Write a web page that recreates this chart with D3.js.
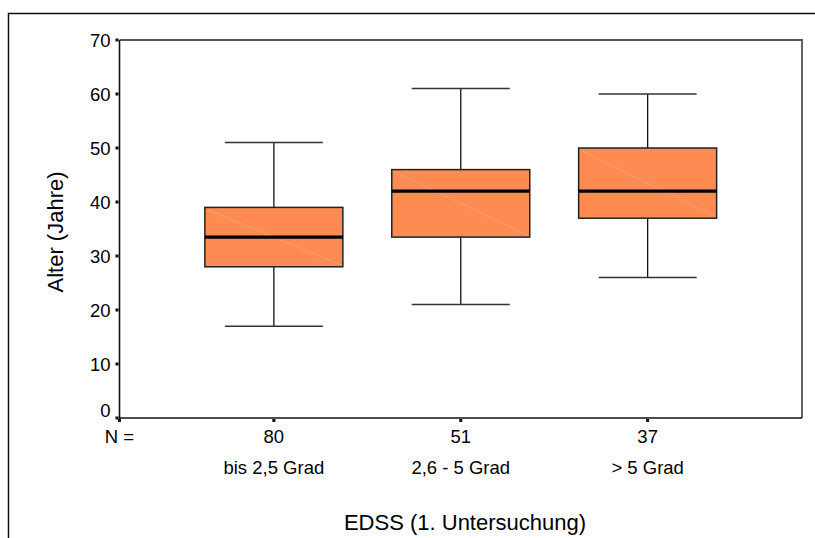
<!DOCTYPE html>
<html>
<head>
<meta charset="utf-8">
<script src="https://cdn.jsdelivr.net/npm/d3@7"></script>
<style>
  body { margin: 0; background: #fff; }
  svg text { font-family: "Liberation Sans", Arial, sans-serif; fill: #000; }
</style>
</head>
<body>
<div id="chart"></div>
<script>
const groups = ["bis 2,5 Grad", "2,6 - 5 Grad", "> 5 Grad"];
const counts = [80, 51, 37];
const whiskerLow = [17, 21, 26];
const q1 = [28, 33.5, 37];
const median = [33.5, 42, 42];
const q3 = [39, 46, 50];
const whiskerHigh = [51, 61, 60];
const yTicks = [0, 10, 20, 30, 40, 50, 60, 70];

const W = 815, H = 538;
const plot = { left: 119.5, right: 802, top: 40, bottom: 418 };

const svg = d3.select("#chart")
  .append("svg")
    .attr("width", W)
    .attr("height", H);

// outer frame (top and left edges visible)
svg.append("path")
  .attr("d", `M8.5,${H} V13.5 H${W}`)
  .attr("fill", "none")
  .attr("stroke", "#111")
  .attr("stroke-width", 1.5);

const y = d3.scaleLinear()
  .domain([0, 70])
  .range([plot.bottom, plot.top]);

const x = d3.scalePoint()
  .domain(groups)
  .range([plot.left, plot.right])
  .padding(0.826);

const boxes = groups.map((g, i) => ({
  g, n: counts[i], lo: whiskerLow[i], q1: q1[i], med: median[i], q3: q3[i], hi: whiskerHigh[i]
}));

// plot frame: top and right edges grey
svg.append("path")
  .attr("d", `M${plot.left},${plot.top} H${plot.right} V${plot.bottom}`)
  .attr("fill", "none")
  .attr("stroke", "#555")
  .attr("stroke-width", 1.8);

const boxW = 138, capW = 98;

const bx = svg.selectAll("g.box")
  .data(boxes)
  .enter().append("g")
    .attr("class", "box");

// whisker stems
bx.append("line")
  .attr("x1", d => x(d.g)).attr("x2", d => x(d.g))
  .attr("y1", d => y(d.hi)).attr("y2", d => y(d.q3))
  .attr("stroke", "#111").attr("stroke-width", 1.3);
bx.append("line")
  .attr("x1", d => x(d.g)).attr("x2", d => x(d.g))
  .attr("y1", d => y(d.q1)).attr("y2", d => y(d.lo))
  .attr("stroke", "#111").attr("stroke-width", 1.3);

// caps
bx.append("line")
  .attr("x1", d => x(d.g) - capW / 2).attr("x2", d => x(d.g) + capW / 2)
  .attr("y1", d => y(d.hi)).attr("y2", d => y(d.hi))
  .attr("stroke", "#333").attr("stroke-width", 1.5);
bx.append("line")
  .attr("x1", d => x(d.g) - capW / 2).attr("x2", d => x(d.g) + capW / 2)
  .attr("y1", d => y(d.lo)).attr("y2", d => y(d.lo))
  .attr("stroke", "#333").attr("stroke-width", 1.5);

// box
bx.append("rect")
  .attr("x", d => x(d.g) - boxW / 2)
  .attr("y", d => y(d.q3))
  .attr("width", boxW)
  .attr("height", d => y(d.q1) - y(d.q3))
  .attr("fill", "#fd8b52")
  .attr("stroke", "#222")
  .attr("stroke-width", 1.5);

// faint diagonal sheen
bx.append("line")
  .attr("x1", d => x(d.g) - boxW / 2 + 2).attr("y1", d => y(d.q3) + 2)
  .attr("x2", d => x(d.g) + boxW / 2 - 2).attr("y2", d => y(d.q1) - 2)
  .attr("stroke", "#ffb08a").attr("stroke-width", 0.8).attr("opacity", 0.6);

// median
bx.append("line")
  .attr("x1", d => x(d.g) - boxW / 2).attr("x2", d => x(d.g) + boxW / 2)
  .attr("y1", d => y(d.med)).attr("y2", d => y(d.med))
  .attr("stroke", "#000").attr("stroke-width", 3.2);

// y axis
const yAxis = svg.append("g");
yAxis.append("line")
  .attr("x1", plot.left).attr("x2", plot.left)
  .attr("y1", plot.top).attr("y2", plot.bottom + 1)
  .attr("stroke", "#111").attr("stroke-width", 1.6);
yAxis.selectAll("rect.tick")
  .data(yTicks)
  .enter().append("rect")
    .attr("x", plot.left - 4)
    .attr("y", d => y(d) - 1.5)
    .attr("width", 3).attr("height", 3)
    .attr("fill", "#111");
yAxis.selectAll("text")
  .data(yTicks)
  .enter().append("text")
    .attr("x", plot.left - 9)
    .attr("y", d => y(d) - (d === 0 ? 7 : -0.5))
    .attr("dy", "0.35em")
    .attr("text-anchor", "end")
    .attr("font-size", 18.5)
    .text(d => d);

svg.append("text")
  .attr("transform", `translate(63,232) rotate(-90)`)
  .attr("text-anchor", "middle")
  .attr("font-size", 22)
  .text("Alter (Jahre)");

// x axis
svg.append("line")
  .attr("x1", plot.left).attr("x2", plot.right)
  .attr("y1", plot.bottom).attr("y2", plot.bottom)
  .attr("stroke", "#111").attr("stroke-width", 1.6);
svg.selectAll("rect.xtick")
  .data([plot.left].concat(groups.map(g => x(g))))
  .enter().append("rect")
    .attr("class", "xtick")
    .attr("x", d => d - 1.5)
    .attr("y", plot.bottom + 1)
    .attr("width", 3).attr("height", 3)
    .attr("fill", "#111");

svg.append("text")
  .attr("x", plot.left)
  .attr("y", 443)
  .attr("text-anchor", "middle")
  .attr("font-size", 18.5)
  .text("N =");

svg.selectAll("text.n")
  .data(boxes)
  .enter().append("text")
    .attr("class", "n")
    .attr("x", d => x(d.g))
    .attr("y", 443)
    .attr("text-anchor", "middle")
    .attr("font-size", 18.5)
    .text(d => d.n);

svg.selectAll("text.cat")
  .data(groups)
  .enter().append("text")
    .attr("class", "cat")
    .attr("x", d => x(d))
    .attr("y", 474)
    .attr("text-anchor", "middle")
    .attr("font-size", 18.5)
    .text(d => d);

svg.append("text")
  .attr("x", 465)
  .attr("y", 530)
  .attr("text-anchor", "middle")
  .attr("font-size", 22)
  .text("EDSS (1. Untersuchung)");
</script>
</body>
</html>
